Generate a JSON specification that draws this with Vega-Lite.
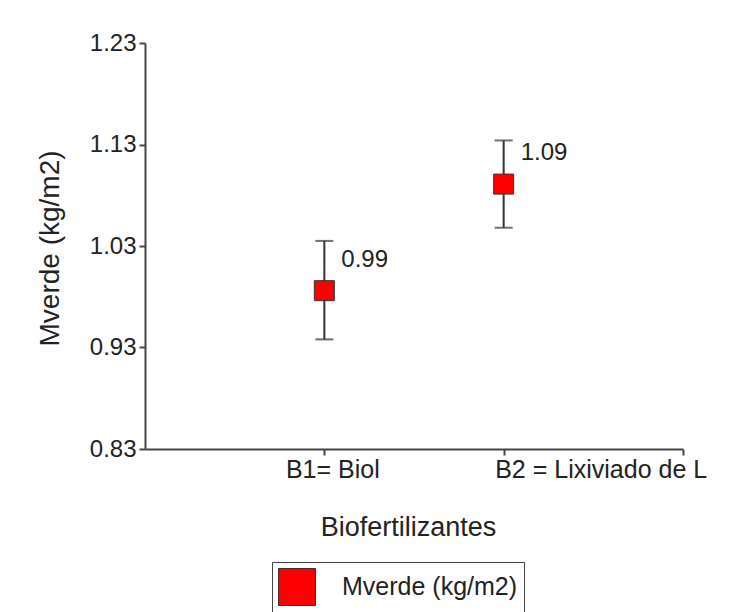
{
  "$schema": "https://vega.github.io/schema/vega-lite/v6.json",
  "autosize": {"type": "none"},
  "padding": {"left": 145, "top": 43, "right": 50, "bottom": 163},
  "width": 538,
  "height": 406,
  "background": "white",
  "config": {
    "view": {"stroke": null},
    "font": "Liberation Sans",
    "axis": {
      "domainColor": "#444",
      "domainWidth": 2,
      "tickColor": "#444",
      "tickWidth": 2,
      "tickSize": 6,
      "grid": false,
      "labelColor": "#222",
      "titleColor": "#222",
      "labelFont": "Liberation Sans",
      "titleFont": "Liberation Sans",
      "titleFontWeight": "normal"
    }
  },
  "data": {
    "values": [
      {"trat": 1, "name": "B1= Biol", "mean": 0.986, "lower": 0.938, "upper": 1.035, "label": "0.99", "series": "Mverde (kg/m2)"},
      {"trat": 2, "name": "B2 = Lixiviado de L", "mean": 1.091, "lower": 1.048, "upper": 1.134, "label": "1.09", "series": "Mverde (kg/m2)"}
    ]
  },
  "encoding": {
    "x": {
      "field": "trat",
      "type": "quantitative",
      "scale": {"domain": [0, 3], "nice": false, "zero": false},
      "axis": {
        "title": "Biofertilizantes",
        "titleFontSize": 27,
        "titleX": 263,
        "titleY": 78,
        "titleAlign": "center",
        "titleBaseline": "middle",
        "values": [1, 2, 3],
        "labelExpr": "datum.value == 1 ? 'B1= Biol' : (datum.value == 2 ? 'B2 = Lixiviado de L' : '')",
        "labelFontSize": 25,
        "labelPadding": 2,
        "labelAlign": "center",
        "labelOffset": {"condition": {"test": "datum.value == 1", "value": 8}, "value": 97},
        "labelFlush": false,
        "labelOverlap": false,
        "labelLimit": 400
      }
    }
  },
  "layer": [
    {
      "mark": {"type": "errorbar", "ticks": true, "size": 18, "thickness": 2, "color": "#333"},
      "encoding": {
        "y": {
          "field": "lower",
          "type": "quantitative",
          "scale": {"domain": [0.83, 1.23], "nice": false, "zero": false},
          "axis": {
            "title": "Mverde (kg/m2)",
            "titleFontSize": 28,
            "titleX": -95,
            "titleY": 205,
            "titleAngle": -90,
            "titleAlign": "center",
            "titleBaseline": "middle",
            "values": [0.83, 0.93, 1.03, 1.13, 1.23],
            "format": ".2f",
            "labelFontSize": 24,
            "labelPadding": 3
          }
        },
        "y2": {"field": "upper"}
      }
    },
    {
      "mark": {"type": "point", "shape": "square", "filled": true, "size": 400, "stroke": "#333", "strokeWidth": 1, "opacity": 1},
      "encoding": {
        "y": {"field": "mean", "type": "quantitative"},
        "color": {
          "field": "series",
          "type": "nominal",
          "scale": {"range": ["#ff0000"]},
          "legend": {
            "title": null,
            "orient": "none",
            "legendX": 127,
            "legendY": 519,
            "symbolType": "square",
            "symbolSize": 1369,
            "symbolStrokeColor": "#333",
            "symbolStrokeWidth": 1,
            "labelFontSize": 25,
            "labelFont": "Liberation Sans",
            "labelColor": "#222",
            "labelOffset": 26,
            "labelLimit": 400,
            "strokeColor": "#444",
            "padding": 6
          }
        }
      }
    },
    {
      "mark": {"type": "text", "align": "left", "baseline": "middle", "dx": 17, "dy": -31, "fontSize": 24, "color": "#222"},
      "encoding": {
        "y": {"field": "mean", "type": "quantitative"},
        "text": {"field": "label"}
      }
    }
  ]
}
